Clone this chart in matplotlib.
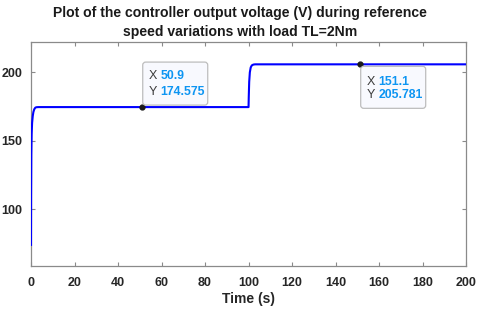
import numpy as np
import matplotlib.pyplot as plt
from matplotlib.patches import FancyBboxPatch

plt.rcParams['font.family'] = ['Liberation Sans', 'DejaVu Sans']

# controller output voltage
time = [0, 0.05, 0.15, 0.3, 0.5, 0.8, 1.1, 1.5, 2.0, 2.6, 3.5, 50.9,
        100, 100.1, 100.3, 100.6, 101.0, 101.5, 102.2, 103, 151.1, 200]
volt = [74, 110, 140, 155, 163, 168, 171, 173, 174.2, 174.5, 174.575, 174.575,
        174.575, 182, 193, 200, 203.5, 205.0, 205.6, 205.781, 205.781, 205.781]

tip_x = [50.9, 151.1]
tip_y = [174.575, 205.781]
# where the tip box sits relative to its point, in pixels: (left, right, bottom, top)
tip_box = [(1, 66, 2, 45), (1, 66, -44, -2)]
tip_line1 = [30.6, -17.7]
tip_line2 = [14.6, -30.3]

fig = plt.figure(figsize=(4.8, 3.14), dpi=100)
ax = fig.add_axes([0.0646, 0.1529, 0.9064, 0.7143])

ax.plot(time, volt, color='#0000ff', lw=1.5, zorder=3)
ax.plot(tip_x, tip_y, 'o', color='#1a1a1a', ms=3.5, zorder=4)

ax.set_xlim(0, 200)
ax.set_ylim(58.6, 222.3)
ax.set_xticks(np.arange(0, 201, 20))
ax.set_yticks([100, 150, 200])

for s in ax.spines.values():
    s.set_color('#8a8a8a')
    s.set_linewidth(0.9)
ax.tick_params(direction='in', length=3, width=0.8, color='#8a8a8a',
               top=True, right=True, labelsize=9, labelcolor='#262626')
ax.tick_params(axis='x', pad=8)
ax.tick_params(axis='y', pad=6)
for lab in ax.get_xticklabels() + ax.get_yticklabels():
    lab.set_fontweight('bold')

ax.set_xlabel('Time (s)', fontsize=10, fontweight='bold', color='#262626', labelpad=2)
fig.text(0.5, 0.928, 'Plot of the controller output voltage (V) during reference\n'
         'speed variations with load TL=2Nm', ha='center', va='center',
         fontsize=10.1, fontweight='bold', color='#1a1a1a', linespacing=1.45)

fig.canvas.draw()
for x, y, b, l1, l2 in zip(tip_x, tip_y, tip_box, tip_line1, tip_line2):
    px, py = ax.transData.transform((x, y))
    box = FancyBboxPatch((px + b[0], py + b[2]), b[1] - b[0], b[3] - b[2],
                         boxstyle='round,pad=0,rounding_size=3',
                         fc='#f8f9fe', ec='#bdbdbd', lw=0.9, transform=None,
                         zorder=5)
    fig.patches.append(box)
    for dy, name, val in [(l1, 'X', x), (l2, 'Y', y)]:
        txt = '%g' % val
        fig.text((px + 7) / fig.bbox.width, (py + dy) / fig.bbox.height, name,
                 fontsize=9, color='#3c3c3c', va='center', ha='left', zorder=6)
        fig.text((px + 18.5) / fig.bbox.width, (py + dy) / fig.bbox.height, txt,
                 fontsize=8.8, color='#0d95f2', va='center', ha='left',
                 fontweight='bold', zorder=6)

fig.savefig('out.png', dpi=100)
